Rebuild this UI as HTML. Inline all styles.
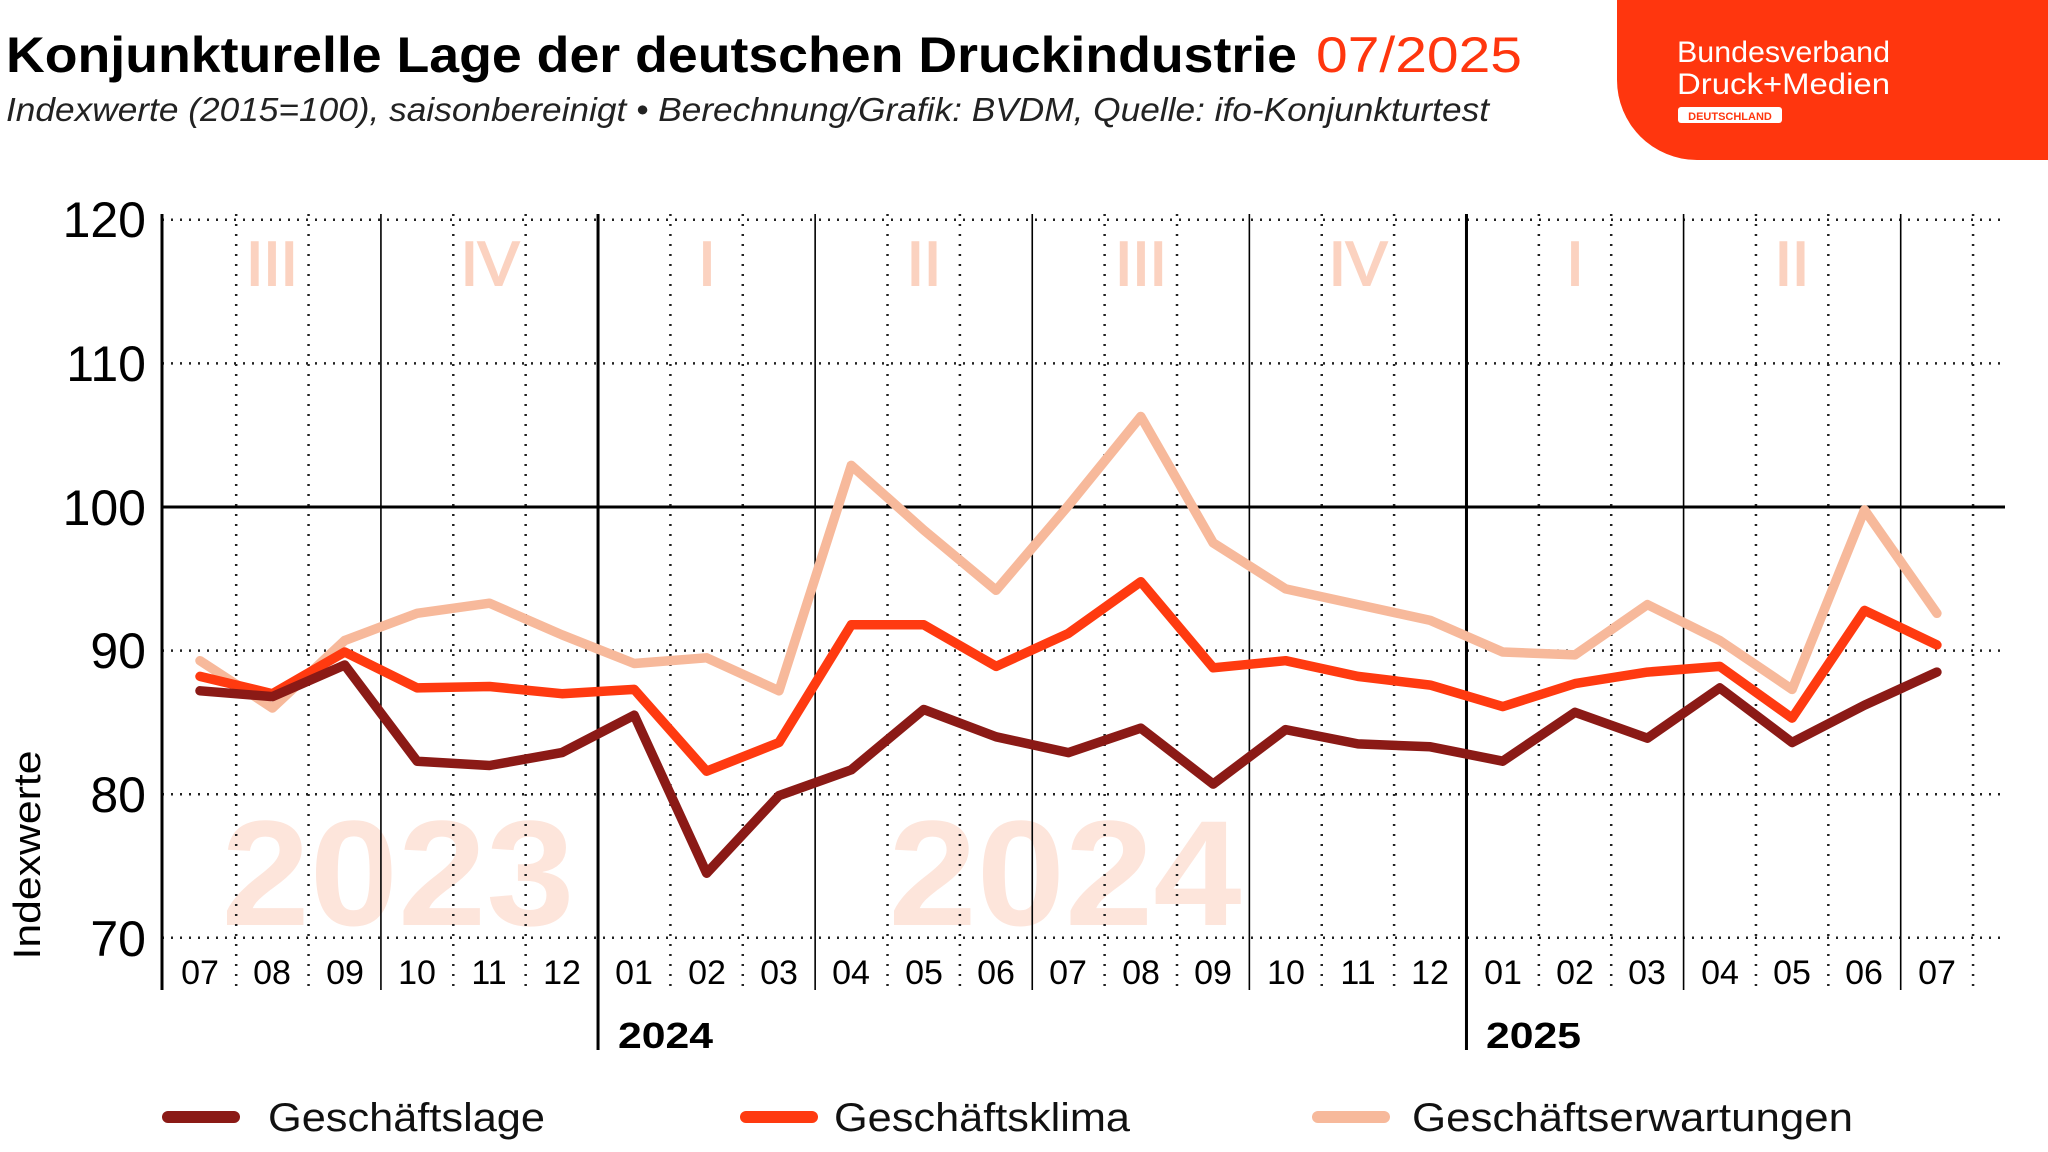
<!DOCTYPE html>
<html><head><meta charset="utf-8"><style>
html,body{margin:0;padding:0;background:#fff;}
svg{display:block;font-family:"Liberation Sans",sans-serif;}
</style></head><body>
<svg id="c" width="2048" height="1152" viewBox="0 0 2048 1152">
<path d="M1617 0 H2048 V160 H1697 A80 80 0 0 1 1617 80 Z" fill="#ff360e"/>
<text x="1677" y="62" font-size="30" fill="#fff" textLength="213" lengthAdjust="spacingAndGlyphs">Bundesverband</text>
<text x="1677" y="94" font-size="30" fill="#fff" textLength="213" lengthAdjust="spacingAndGlyphs">Druck+Medien</text>
<rect x="1678" y="107" width="104" height="16" rx="3" fill="#fff"/>
<text x="1730" y="120" font-size="11" font-weight="bold" fill="#ff360e" text-anchor="middle">DEUTSCHLAND</text>

<text x="6" y="72" font-size="50" font-weight="bold" fill="#000" textLength="1291" lengthAdjust="spacingAndGlyphs">Konjunkturelle Lage der deutschen Druckindustrie</text>
<text x="1316" y="72" font-size="50" fill="#ff360e" textLength="206" lengthAdjust="spacingAndGlyphs">07/2025</text>
<text x="6" y="121" font-size="33" font-style="italic" fill="#222" textLength="1483" lengthAdjust="spacingAndGlyphs">Indexwerte (2015=100), saisonbereinigt • Berechnung/Grafik: BVDM, Quelle: ifo-Konjunkturtest</text>

<g font-size="62" fill="#fbd2c0" text-anchor="middle" stroke="#fbd2c0" stroke-width="2">
<text x="272" y="285">III</text><text x="490" y="285">IV</text><text x="707" y="285">I</text><text x="924" y="285">II</text>
<text x="1141" y="285">III</text><text x="1358" y="285">IV</text><text x="1575" y="285">I</text><text x="1792" y="285">II</text>
</g>
<g font-size="150" font-weight="bold" fill="#fde5db" text-anchor="middle">
<text x="398" y="925" textLength="353" lengthAdjust="spacingAndGlyphs">2023</text>
<text x="1065" y="925" textLength="353" lengthAdjust="spacingAndGlyphs">2024</text>
</g>
<g id="grid"></g>
<g font-size="50" fill="#000" text-anchor="end">
<text x="146" y="237">120</text><text x="146" y="381">110</text><text x="146" y="525">100</text>
<text x="146" y="668">90</text><text x="146" y="812">80</text><text x="146" y="956">70</text>
</g>
<text transform="translate(40,855) rotate(-90)" font-size="38" text-anchor="middle" fill="#000" textLength="209" lengthAdjust="spacingAndGlyphs">Indexwerte</text>
<g font-size="34" fill="#000" text-anchor="middle">
<text x="200" y="984">07</text><text x="272" y="984">08</text><text x="345" y="984">09</text><text x="417" y="984">10</text><text x="489" y="984">11</text><text x="562" y="984">12</text>
<text x="634" y="984">01</text><text x="707" y="984">02</text><text x="779" y="984">03</text><text x="851" y="984">04</text><text x="924" y="984">05</text><text x="996" y="984">06</text>
<text x="1068" y="984">07</text><text x="1141" y="984">08</text><text x="1213" y="984">09</text><text x="1286" y="984">10</text><text x="1358" y="984">11</text><text x="1430" y="984">12</text>
<text x="1503" y="984">01</text><text x="1575" y="984">02</text><text x="1647" y="984">03</text><text x="1720" y="984">04</text><text x="1792" y="984">05</text><text x="1864" y="984">06</text><text x="1937" y="984">07</text>
</g>
<text x="618" y="1048" font-size="36" font-weight="bold" textLength="95" lengthAdjust="spacingAndGlyphs">2024</text>
<text x="1486" y="1048" font-size="36" font-weight="bold" textLength="95" lengthAdjust="spacingAndGlyphs">2025</text>
<g id="lines"></g>
<g font-size="40" fill="#111">
<line x1="168" y1="1117" x2="234" y2="1117" stroke="#8b1a16" stroke-width="12" stroke-linecap="round"/>
<text x="268" y="1131" textLength="277" lengthAdjust="spacingAndGlyphs">Geschäftslage</text>
<line x1="746" y1="1117" x2="812" y2="1117" stroke="#ff3a10" stroke-width="12" stroke-linecap="round"/>
<text x="834" y="1131" textLength="296" lengthAdjust="spacingAndGlyphs">Geschäftsklima</text>
<line x1="1318" y1="1117" x2="1384" y2="1117" stroke="#f7b99b" stroke-width="12" stroke-linecap="round"/>
<text x="1412" y="1131" textLength="441" lengthAdjust="spacingAndGlyphs">Geschäftserwartungen</text>
</g>
</svg>
<script>
var NS="http://www.w3.org/2000/svg";
function el(p,t,a){var e=document.createElementNS(NS,t);for(var k in a)e.setAttribute(k,a[k]);p.appendChild(e);return e;}
var g=document.getElementById("grid");
function X(i){return 200+72.37*i;}
function Y(v){return 507-(v-100)*14.36;}
[120,110,90,80,70].forEach(function(v){el(g,"line",{x1:162,x2:2005,y1:Y(v),y2:Y(v),stroke:"#222","stroke-width":2.5,"stroke-dasharray":"2 7"});});
for(var i=0;i<=25;i++){var x=X(i-0.5);if(i==0)x=162;
 var q=(i%3==0);var yr=(i==6||i==18);
 if(i==0){el(g,"line",{x1:x,x2:x,y1:214,y2:990,stroke:"#000","stroke-width":3});}
 else if(yr){el(g,"line",{x1:x,x2:x,y1:214,y2:1050,stroke:"#000","stroke-width":3});}
 else if(q&&i<25){el(g,"line",{x1:x,x2:x,y1:214,y2:990,stroke:"#000","stroke-width":1.6});}
 else{el(g,"line",{x1:x,x2:x,y1:214,y2:990,stroke:"#222","stroke-width":2.5,"stroke-dasharray":"2 8"});}
}
el(g,"line",{x1:162,x2:2005,y1:Y(100),y2:Y(100),stroke:"#000","stroke-width":3});
var L=document.getElementById("lines");
var E=[89.3,86.0,90.7,92.6,93.3,91.1,89.1,89.5,87.2,102.9,98.4,94.2,100.1,106.3,97.5,94.3,93.2,92.1,89.9,89.7,93.2,90.7,87.3,99.8,92.6];
var K=[88.2,87.0,89.9,87.4,87.5,87.0,87.3,81.6,83.6,91.8,91.8,88.9,91.2,94.8,88.8,89.3,88.2,87.6,86.1,87.7,88.5,88.9,85.3,92.8,90.4];
var G=[87.2,86.8,89.0,82.3,82.0,82.9,85.5,74.5,79.9,81.7,85.9,84.0,82.9,84.6,80.7,84.5,83.5,83.3,82.3,85.7,83.9,87.4,83.6,86.2,88.5];
[[E,"#f7b99b"],[K,"#ff3a10"],[G,"#8b1a16"]].forEach(function(s){
 var p=s[0].map(function(v,i){return X(i).toFixed(1)+","+Y(v).toFixed(1);}).join(" ");
 el(L,"polyline",{points:p,fill:"none",stroke:s[1],"stroke-width":9.5,"stroke-linejoin":"round","stroke-linecap":"round"});
});
</script>
</body></html>
